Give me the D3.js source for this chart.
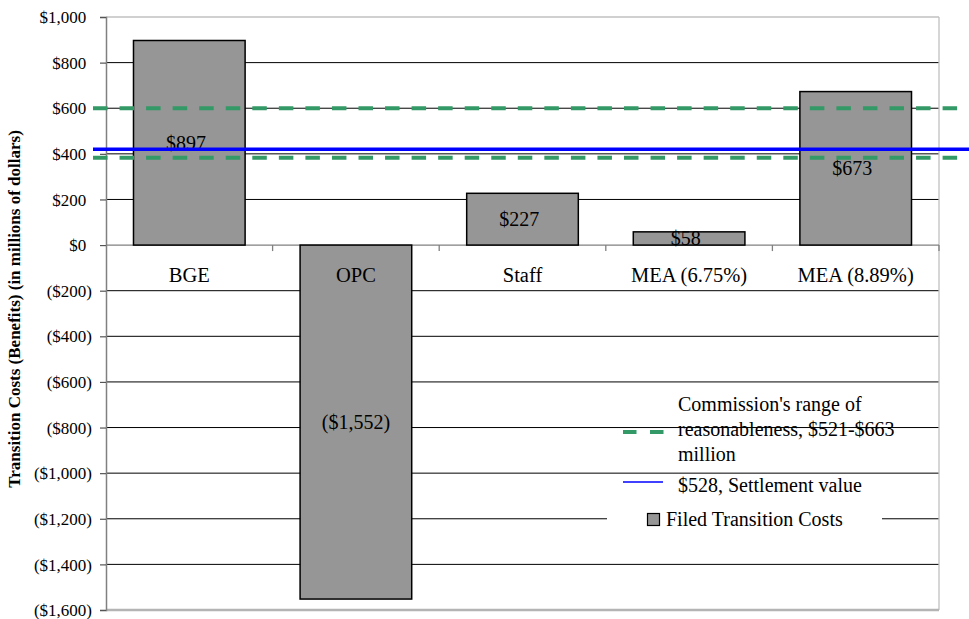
<!DOCTYPE html>
<html><head><meta charset="utf-8">
<script src="https://cdn.jsdelivr.net/npm/d3@7"></script>
<style>
html,body{margin:0;padding:0;background:#fff;}
svg{display:block;}
svg text{font-family:"Liberation Serif","Times New Roman",serif;}
</style></head>
<body>
<svg id="chart" width="969" height="619"></svg>
<script>
// ---- data ----
const categories = ["BGE", "OPC", "Staff", "MEA (6.75%)", "MEA (8.89%)"];
const filedCosts = [897, -1552, 227, 58, 673];
const yTickValues = [1000, 800, 600, 400, 200, 0, -200, -400, -600, -800, -1000, -1200, -1400, -1600];
const rangeLines = [600, 383];      // Commission's range of reasonableness (as drawn)
const settlementLine = [420];       // $528 settlement value (as drawn)
const legendRange = ["Commission's range of", "reasonableness, $521-$663", "million"];
const legendSettlement = "$528, Settlement value";
const legendBars = "Filed Transition Costs";
const yTitle = "Transition Costs (Benefits) (in millions of dollars)";

// ---- layout ----
const FONT = "Liberation Serif, Times New Roman, serif";
const svg = d3.select("#chart").attr("font-family", FONT);
const L = 106, R = 939, T = 17, B = 610;

const x = d3.scaleBand().domain(categories).range([L, R]).paddingInner(0.33).paddingOuter(0.165);
const y = d3.scaleLinear().domain([-1600, 1000]).range([B, T]);
const step = x.step();

const money = v => v < 0 ? "($" + d3.format(",")(-v) + ")" : "$" + d3.format(",")(v);

// gridlines
svg.append("g").selectAll("line").data(yTickValues.filter(v => v !== 1000 && v !== -1600 && v !== 0))
  .join("line")
  .attr("x1", L).attr("x2", R)
  .attr("y1", d => y(d)).attr("y2", d => y(d))
  .attr("stroke", "#000").attr("stroke-width", 1);

// borders
svg.append("line").attr("x1", L).attr("x2", R).attr("y1", y(1000)).attr("y2", y(1000)).attr("stroke", "#c0c0c0").attr("stroke-width", 1.3);
svg.append("line").attr("x1", R).attr("x2", R).attr("y1", T).attr("y2", B).attr("stroke", "#c0c0c0").attr("stroke-width", 1.3);
svg.append("line").attr("x1", L).attr("x2", R).attr("y1", y(-1600)).attr("y2", y(-1600)).attr("stroke", "#b4b4b4").attr("stroke-width", 2.3);

// zero line and category ticks
svg.append("line").attr("x1", L).attr("x2", R).attr("y1", y(0)).attr("y2", y(0)).attr("stroke", "#808080").attr("stroke-width", 1.3);
svg.append("g").selectAll("line").data(d3.range(1, categories.length + 1))
  .join("line")
  .attr("x1", i => L + i * step).attr("x2", i => L + i * step)
  .attr("y1", y(0)).attr("y2", y(0) + 6)
  .attr("stroke", "#808080").attr("stroke-width", 1.3);

// y axis
const yAxis = svg.append("g").attr("transform", `translate(${L},0)`)
  .call(d3.axisLeft(y).tickValues(yTickValues).tickSize(6).tickPadding(8).tickFormat(""))
  .attr("font-family", FONT).attr("font-size", 17);
yAxis.select(".domain").attr("stroke", "#808080").attr("stroke-width", 1.5);
yAxis.selectAll(".tick line").attr("stroke", "#555").attr("stroke-width", 1.2);
const tl = yAxis.selectAll(".tick").append("text")
  .attr("x", -14).attr("dy", "0.33em").attr("text-anchor", "end")
  .attr("fill", "#000").attr("font-family", FONT).attr("font-size", 17);
tl.append("tspan").text(d => money(d));
tl.filter(d => d >= 0).append("tspan").attr("fill-opacity", 0).text(")");

// bars
svg.append("g").selectAll("rect").data(filedCosts)
  .join("rect")
  .attr("x", (d, i) => x(categories[i]))
  .attr("width", x.bandwidth())
  .attr("y", d => y(Math.max(0, d)))
  .attr("height", d => Math.abs(y(d) - y(0)))
  .attr("fill", "#969696").attr("stroke", "#000").attr("stroke-width", 1.5);

// category labels
svg.append("g").selectAll("text").data(categories)
  .join("text")
  .attr("x", d => x(d) + x.bandwidth() / 2)
  .attr("y", y(0) + 37)
  .attr("text-anchor", "middle").attr("font-size", 20.5)
  .text(d => d);

// bar value labels
const bl = svg.append("g").selectAll("text").data(filedCosts)
  .join("text")
  .attr("x", (d, i) => x(categories[i]) + x.bandwidth() / 2)
  .attr("y", d => (y(d) + y(0)) / 2)
  .attr("dy", "0.35em")
  .attr("text-anchor", "middle").attr("font-size", 20);
bl.append("tspan").text(d => money(d));
bl.filter(d => d >= 0).append("tspan").attr("fill-opacity", 0).text(")");

// reference lines
svg.append("g").selectAll("line").data(rangeLines)
  .join("line")
  .attr("x1", 93).attr("x2", 958)
  .attr("y1", d => y(d)).attr("y2", d => y(d))
  .attr("stroke", "#339966").attr("stroke-width", 4).attr("stroke-dasharray", "14.5,12.05");
svg.append("g").selectAll("line").data(settlementLine)
  .join("line")
  .attr("x1", 93).attr("x2", 969)
  .attr("y1", d => y(d)).attr("y2", d => y(d))
  .attr("stroke", "#0000ff").attr("stroke-width", 3.5);

// legend
const lg = svg.append("g").attr("font-size", 20);
lg.append("line").attr("x1", 623).attr("x2", 664).attr("y1", 432).attr("y2", 432)
  .attr("stroke", "#339966").attr("stroke-width", 4).attr("stroke-dasharray", "13.5,13.5");
lg.selectAll("text.r").data(legendRange).join("text").attr("class", "r")
  .attr("x", 678).attr("y", (d, i) => 411 + i * 25).text(d => d);
lg.append("line").attr("x1", 623).attr("x2", 663).attr("y1", 482).attr("y2", 482)
  .attr("stroke", "#0000ff").attr("stroke-width", 1.5);
lg.append("text").attr("x", 678).attr("y", 492).text(legendSettlement);
lg.append("rect").attr("x", 607).attr("y", 506).attr("width", 275).attr("height", 28).attr("fill", "#fff");
lg.append("rect").attr("x", 647.5).attr("y", 513.5).attr("width", 12).attr("height", 12)
  .attr("fill", "#969696").attr("stroke", "#000").attr("stroke-width", 1.2);
lg.append("text").attr("x", 666).attr("y", 526).text(legendBars);

// y title
svg.append("text").attr("transform", "translate(20,309) rotate(-90)")
  .attr("text-anchor", "middle").attr("font-size", 17).attr("font-weight", "bold")
  .text(yTitle);
</script>
</body></html>
